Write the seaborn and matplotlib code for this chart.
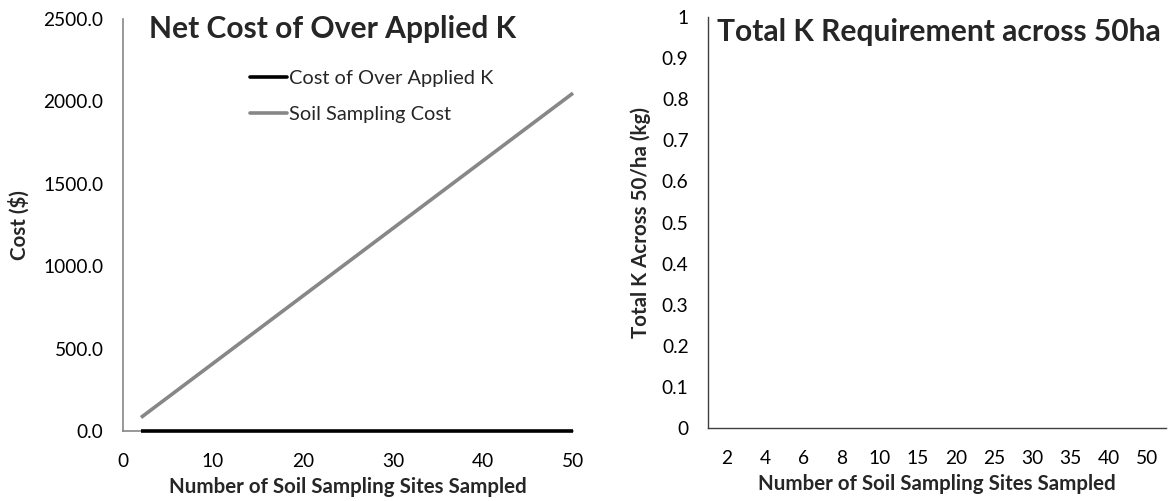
import numpy as np
import pandas as pd
import matplotlib
matplotlib.use("Agg")
import matplotlib.pyplot as plt
from matplotlib.lines import Line2D
import seaborn as sns

# Sampling sites and costs
sites = [2, 4, 6, 8, 10, 15, 20, 25, 30, 35, 40, 50]
over_applied_cost = [0, 0, 0, 0, 0, 0, 0, 0, 0, 0, 0, 0]
sampling_cost = [82, 164, 246, 328, 410, 615, 820, 1025, 1230, 1435, 1640, 2050]

# Total K requirement panel (categorical axis, no series plotted)
k_categories = ["2", "4", "6", "8", "10", "15", "20", "25", "30", "35", "40", "50"]
k_yticks = [0, 0.1, 0.2, 0.3, 0.4, 0.5, 0.6, 0.7, 0.8, 0.9, 1]
k_yticklabels = ["0", "0.1", "0.2", "0.3", "0.4", "0.5", "0.6", "0.7", "0.8", "0.9", "1"]

sns.set_theme(style="white")
FONT = ["Lato", "DejaVu Sans"]
plt.rcParams["font.family"] = FONT

fig = plt.figure(figsize=(11.73, 5.01), dpi=100)
W, H = 1173, 501

def axes_px(x0, y_top, x1, y_bot):
    return fig.add_axes([x0 / W, 1 - y_bot / H, (x1 - x0) / W, (y_bot - y_top) / H])

TICK_FS = 13.8
LABEL_FS = 14.8
TITLE_FS = 21.6
LEGEND_FS = 14.4
BLACK = "#000000"
GREY = "#878787"

# ---- Left panel: net cost ----
ax1 = axes_px(123, 19, 573, 431)
df = pd.DataFrame({
    "sites": sites * 2,
    "cost": over_applied_cost + sampling_cost,
    "series": ["Cost of Over Applied K"] * len(sites) + ["Soil Sampling Cost"] * len(sites),
})
# grey series first so the black zero line sits on top
sns.lineplot(data=df, x="sites", y="cost", hue="series",
             hue_order=["Soil Sampling Cost", "Cost of Over Applied K"],
             palette={"Cost of Over Applied K": BLACK, "Soil Sampling Cost": GREY},
             linewidth=2.6, ax=ax1, legend=False)
for ln in ax1.lines:
    ln.set_clip_on(False)
    ln.set_zorder(5)
    ln.set_solid_capstyle("butt")
ax1.set_xlim(0, 50)
ax1.set_ylim(0, 2500)
ax1.set_xticks([0, 10, 20, 30, 40, 50])
ax1.set_yticks([0, 500, 1000, 1500, 2000, 2500])
ax1.set_yticklabels([f"{v:.1f}" for v in [0, 500, 1000, 1500, 2000, 2500]])
ax1.tick_params(axis="both", length=0, labelsize=TICK_FS, colors=BLACK)
ax1.tick_params(axis="y", pad=14)
ax1.tick_params(axis="x", pad=16)
for s in ["top", "right"]:
    ax1.spines[s].set_visible(False)
for s in ["left", "bottom"]:
    ax1.spines[s].set_color("#868686")
    ax1.spines[s].set_linewidth(1.2)
ax1.set_xlabel("Number of Soil Sampling Sites Sampled", fontsize=LABEL_FS, fontweight="bold", labelpad=5)
ax1.set_ylabel("Cost ($)", fontsize=LABEL_FS, fontweight="bold", labelpad=10)

handles = [Line2D([], [], color=BLACK, lw=2.6), Line2D([], [], color=GREY, lw=2.6)]
ax1.legend(handles, ["Cost of Over Applied K", "Soil Sampling Cost"],
           loc="upper left", bbox_to_anchor=((250 - 123) / 450, (431 - 70) / 412),
           frameon=False, fontsize=LEGEND_FS, handlelength=1.85, handletextpad=0.12,
           labelspacing=0.95, borderaxespad=0, borderpad=0)
fig.text(149 / W, 1 - 29 / H, "Net Cost of Over Applied K", fontsize=TITLE_FS,
         fontweight="bold", ha="left", va="center")

# ---- Right panel: total K requirement ----
ax2 = axes_px(708, 17, 1166, 428)
ax2.set_xlim(-0.5, len(k_categories) - 0.5)
ax2.set_ylim(0, 1)
ax2.set_xticks(range(len(k_categories)))
ax2.set_xticklabels(k_categories)
ax2.set_yticks(k_yticks)
ax2.set_yticklabels(k_yticklabels)
ax2.tick_params(axis="both", length=0, labelsize=TICK_FS, colors=BLACK)
ax2.tick_params(axis="y", pad=14)
ax2.tick_params(axis="x", pad=16)
for s in ["top", "right"]:
    ax2.spines[s].set_visible(False)
for s in ["left", "bottom"]:
    ax2.spines[s].set_color("#404040")
    ax2.spines[s].set_linewidth(1.0)
ax2.set_xlabel("Number of Soil Sampling Sites Sampled", fontsize=LABEL_FS, fontweight="bold", labelpad=5)
ax2.set_ylabel("Total K Across 50/ha (kg)", fontsize=LABEL_FS, fontweight="bold", labelpad=8)
fig.text(717 / W, 1 - 32 / H, "Total K Requirement across 50ha", fontsize=TITLE_FS,
         fontweight="bold", ha="left", va="center")

fig.savefig("out.png", dpi=100)
